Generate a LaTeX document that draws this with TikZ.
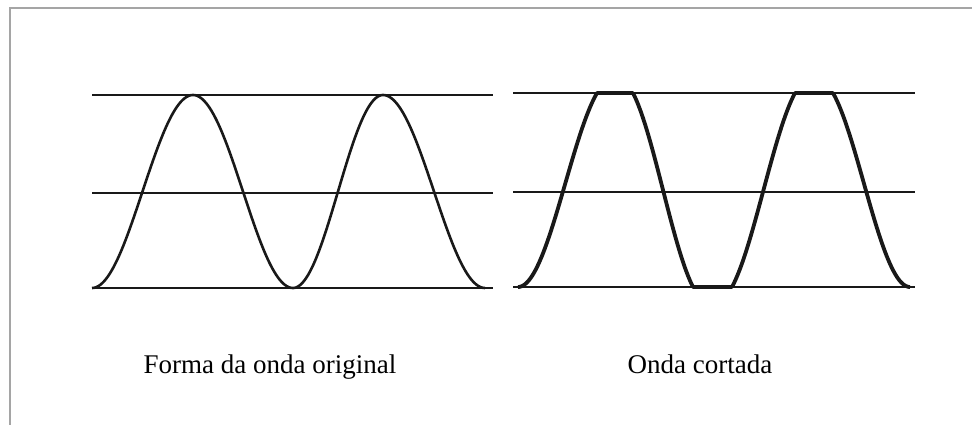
\documentclass[tikz,border=0pt]{standalone}
\usepackage{fontspec}
\setmainfont{Liberation Serif}
\begin{document}
\begin{tikzpicture}[x=1pt,y=-1pt,
  frameline/.style={draw={rgb,255:red,165;green,165;blue,165},line width=1.5pt},
  level/.style={draw=black!90,line width=2.3pt},
  origwave/.style={draw=black!90,line width=2.6pt,line join=round},
  cutwave/.style={draw=black!90,line width=3.8pt,line join=round},
  caption/.style={font=\fontsize{27}{32}\selectfont,anchor=base,inner sep=0pt}]
\useasboundingbox (0,0) rectangle (972,425);
\fill[white] (0,0) rectangle (972,425);
% frame (top and left edges only)
\draw[frameline] (10,425) -- (10,8) -- (972,8);
% left panel levels
\draw[level] (92,95) -- (493,95);
\draw[level] (92,193) -- (493,193);
\draw[level] (92,288) -- (493,288);
% right panel levels
\draw[level] (513,93) -- (915,93);
\draw[level] (513,192) -- (915,192);
\draw[level] (513,287) -- (915,287);
% original wave
\draw[origwave] plot[domain=0:1,samples=60] ({92+101*\x},{288-96.5*(1-cos(180*\x))})
  -- plot[domain=0:1,samples=60] ({193+100*\x},{95+96.5*(1-cos(180*\x))})
  -- plot[domain=0:1,samples=60] ({293+90*\x},{288-96.5*(1-cos(180*\x))})
  -- plot[domain=0:1,samples=60] ({383+102*\x},{95+96.5*(1-cos(180*\x))});
% clipped wave
\draw[cutwave] plot[domain=0:1,samples=60] ({518+79*\x},{287-103.97*(1+sin(-90+150*\x))})
  -- (633,93)
  -- plot[domain=0:1,samples=60] ({633+60*\x},{190-112*sin(60-120*\x)})
  -- (732,287)
  -- plot[domain=0:1,samples=60] ({732+63*\x},{190+112*sin(60-120*\x)})
  -- (833,93)
  -- plot[domain=0:1,samples=60] ({833+77*\x},{287-103.97*(1+sin(60-150*\x))});
% captions
\node[caption] (capa) at (270,373) {Forma da onda original};
\node[caption] (capb) at (700,373) {Onda cortada};
\end{tikzpicture}
\end{document}
